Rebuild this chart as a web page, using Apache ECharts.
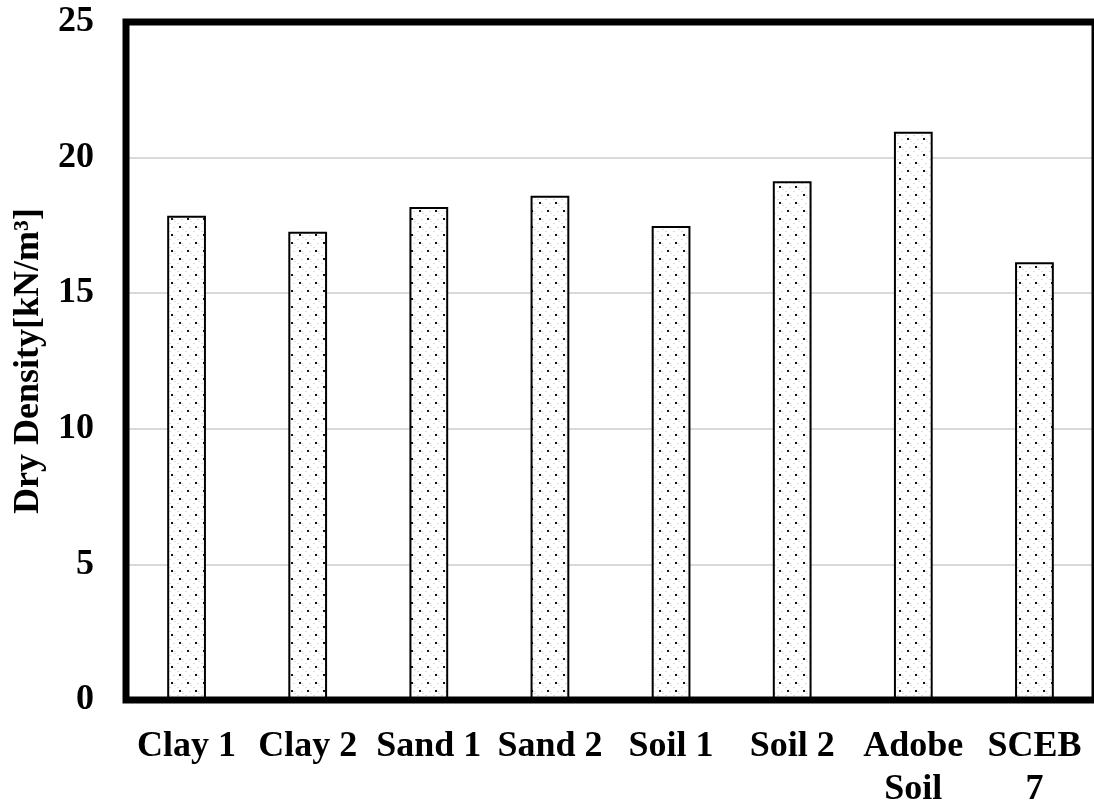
<!DOCTYPE html>
<html>
<head>
<meta charset="utf-8">
<script src="https://cdn.jsdelivr.net/npm/echarts@6/dist/echarts.min.js"></script>
<style>
html,body{margin:0;padding:0;background:#fff;}
#chart{width:1094px;height:805px;}
</style>
</head>
<body>
<div id="chart"></div>
<script>
const categories = ['Clay 1', 'Clay 2', 'Sand 1', 'Sand 2', 'Soil 1', 'Soil 2', 'Adobe\nSoil', 'SCEB\n7'];
const dryDensity = [17.86, 17.27, 18.18, 18.59, 17.48, 19.13, 20.95, 16.14];
const yTicks = [0, 5, 10, 15, 20, 25];

function makePattern() {
  const c = document.createElement('canvas');
  c.width = 16; c.height = 16;
  const g = c.getContext('2d');
  g.fillStyle = '#ffffff';
  g.fillRect(0, 0, 16, 16);
  g.fillStyle = '#dddddd';
  [[5,3],[13,3],[1,7],[9,7],[5,11],[13,11],[1,15],[9,15],[6,5],[14,13]].forEach(p => g.fillRect(p[0], p[1], 2, 1));
  g.fillStyle = '#111111';
  g.fillRect(3, 2, 2, 2);
  g.fillRect(11, 10, 2, 2);
  return c;
}

const font = '"Liberation Serif", "Times New Roman", serif';
const chart = echarts.init(document.getElementById('chart'), null, {renderer: 'canvas'});
chart.setOption({
  animation: false,
  backgroundColor: '#ffffff',
  grid: {
    show: true, z: 10, left: 126, right: -1, top: 22, bottom: 105,
    outerBoundsMode: 'none', containLabel: false,
    borderColor: '#000', borderWidth: 7, backgroundColor: 'transparent'
  },
  xAxis: {
    type: 'category',
    data: categories,
    axisLine: {show: false},
    axisTick: {show: false},
    axisLabel: {
      interval: 0, margin: 25, color: '#000', fontFamily: font,
      fontWeight: 'bold', fontSize: 36, lineHeight: 43
    }
  },
  yAxis: {
    type: 'value',
    min: 0, max: 25, interval: 5,
    name: 'Dry Density[kN/m³]',
    nameLocation: 'middle',
    nameGap: 78,
    nameTextStyle: {color: '#000', fontFamily: font, fontWeight: 'bold', fontSize: 36},
    axisLine: {show: false},
    axisTick: {show: false},
    axisLabel: {
      margin: 32, color: '#000', fontFamily: font, fontWeight: 'bold', fontSize: 36,
      formatter: v => yTicks.includes(v) ? String(v) : ''
    },
    splitLine: {show: true, lineStyle: {color: '#d9d9d9', width: 2}}
  },
  series: [{
    type: 'bar',
    data: dryDensity,
    barWidth: '32%',
    itemStyle: {
      color: {image: makePattern(), repeat: 'repeat'},
      borderColor: '#000',
      borderWidth: 2
    }
  }]
});
</script>
</body>
</html>
